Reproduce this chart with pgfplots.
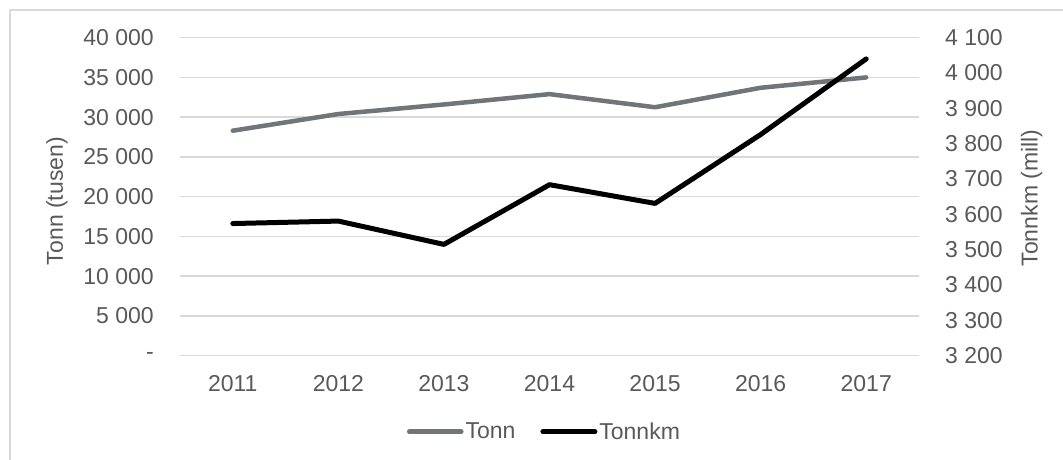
\documentclass[border=0pt]{standalone}
\usepackage{fontspec}
\setmainfont{Liberation Sans}
\usepackage{pgfplots}
\pgfplotsset{compat=1.18}
\definecolor{txt}{HTML}{595959}
\definecolor{gridc}{HTML}{D9D9D9}
\definecolor{tonn}{RGB}{112,117,122}
\newcommand{\fnt}{\fontsize{23bp}{27bp}\selectfont}
\begin{document}
\begin{tikzpicture}[x=1bp,y=1bp]
\useasboundingbox (0,0) rectangle (1063,460);
\draw[gridc, line width=1.5bp] (10,-5) -- (10,450) -- (1070,450);
\begin{axis}[
  at={(180bp,104.3bp)}, anchor=south west,
  scale only axis, width=739bp, height=318bp,
  xmin=2010.5, xmax=2017.5, ymin=0, ymax=40000,
  scaled y ticks=false, scaled x ticks=false,
  xtick={2011,2012,2013,2014,2015,2016,2017},
  xticklabels={2011,2012,2013,2014,2015,2016,2017},
  ytick={0,5000,10000,15000,20000,25000,30000,35000,40000},
  yticklabels={{-\hspace{10bp}},5 000,10 000,15 000,20 000,25 000,30 000,35 000,40 000},
  axis line style={draw=none},
  major tick length=0pt,
  ymajorgrids, grid style={gridc, line width=1.5bp},
  tick label style={font=\fnt, text=txt, inner sep=0pt},
  yticklabel shift=26bp, xticklabel shift=20bp,
  ylabel={Tonn (tusen)},
  ylabel style={font=\fnt, text=txt, at={(axis description cs:-0.1664,0.486)}, anchor=center, rotate=0},
  clip=false,
]
\addplot[tonn, line width=4.5bp, line cap=round, line join=round] coordinates {
(2011,28300) (2012,30400) (2013,31600) (2014,32900) (2015,31250) (2016,33700) (2017,35000)};
\end{axis}
\begin{axis}[
  at={(180bp,104.3bp)}, anchor=south west,
  scale only axis, width=739bp, height=318bp,
  xmin=2010.5, xmax=2017.5, ymin=3200, ymax=4100,
  scaled y ticks=false,
  axis y line*=right, hide x axis,
  ytick={3200,3300,3400,3500,3600,3700,3800,3900,4000,4100},
  yticklabels={3 200,3 300,3 400,3 500,3 600,3 700,3 800,3 900,4 000,4 100},
  axis line style={draw=none},
  major tick length=0pt,
  tick label style={font=\fnt, text=txt, inner sep=0pt},
  yticklabel shift=26bp,
  ylabel={Tonnkm (mill)},
  ylabel style={font=\fnt, text=txt, at={(axis description cs:1.1525,0.496)}, anchor=center, rotate=0},
  legend columns=2,
  legend style={draw=none, fill=none, font=\fnt, text=txt,
    at={(axis description cs:0.4932,-0.239)}, anchor=center,
    /tikz/every even column/.append style={column sep=23bp},
    inner sep=0pt, row sep=0pt},
  legend cell align=left,
  legend image code/.code={\draw[#1, line cap=round] (0bp,0bp) -- (52bp,0bp);},
  clip=false,
]
\addlegendimage{tonn, line width=4.5bp}
\addlegendentry{Tonn}
\addplot[black, line width=5bp, line cap=round, line join=round] coordinates {
(2011,3574) (2012,3581) (2013,3515) (2014,3684) (2015,3631) (2016,3826) (2017,4040)};
\addlegendentry{Tonnkm}
\end{axis}
\end{tikzpicture}
\end{document}
